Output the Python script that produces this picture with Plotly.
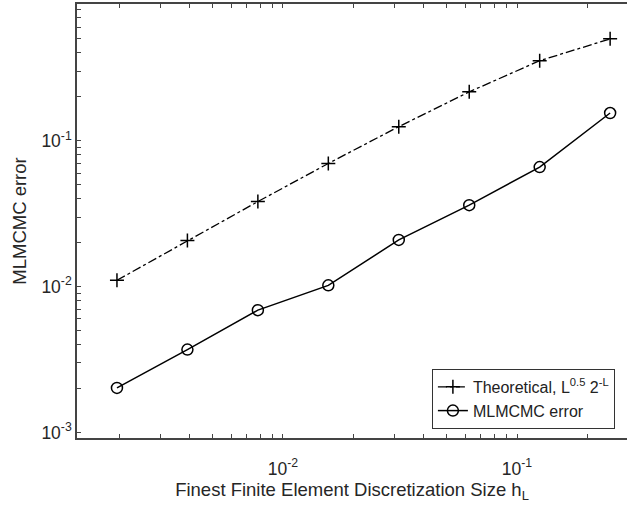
import plotly.graph_objects as go

# Discretization sizes h_L
h_values = [0.001953125, 0.00390625, 0.0078125, 0.015625, 0.03125, 0.0625, 0.125, 0.25]
# Theoretical rate L^0.5 2^-L
theoretical = [0.01105, 0.0207, 0.0383, 0.0699, 0.125, 0.2165, 0.354, 0.5]
# MLMCMC error
mlmcmc_error = [0.00202, 0.0037, 0.0069, 0.0102, 0.0209, 0.0362, 0.066, 0.155]

series_names = ["Theoretical, L<sup>0.5</sup> 2<sup>-L</sup>", "MLMCMC error"]
x_title = "Finest Finite Element Discretization Size h<sub>L</sub>"
y_title = "MLMCMC error"

major_vals = [0.001, 0.01, 0.1]
major_text = ["10<sup>-3</sup>", "10<sup>-2</sup>", "10<sup>-1</sup>"]

FONT = "Liberation Sans, Arial, Helvetica, sans-serif"
AXC = "#444444"
TXT = "#262626"

# tick positions: decades labelled, 2..9 multiples unlabelled
tick_vals, tick_text = [], []
for e in range(-4, 1):
    for m in range(1, 10):
        v = m * 10.0 ** e
        tick_vals.append(v)
        if m == 1 and v in major_vals:
            tick_text.append(major_text[major_vals.index(v)])
        else:
            tick_text.append("")

fig = go.Figure()
fig.add_trace(go.Scatter(
    x=h_values, y=theoretical, name=series_names[0], mode="lines+markers",
    line=dict(color="black", width=1.3, dash="dashdot"),
    marker=dict(symbol="cross-thin-open", size=10, color="black",
                line=dict(width=1.5, color="black")),
))
fig.add_trace(go.Scatter(
    x=h_values, y=mlmcmc_error, name=series_names[1], mode="lines+markers",
    line=dict(color="black", width=1.5),
    marker=dict(symbol="circle-open", size=11, color="black",
                line=dict(width=1.5, color="black")),
))

axis_common = dict(
    type="log", showgrid=False, zeroline=False, showline=True,
    linecolor=AXC, linewidth=1.5, ticks="inside", ticklen=4, tickcolor=AXC,
    tickwidth=1, tickmode="array", tickvals=tick_vals, ticktext=tick_text,
    tickfont=dict(family=FONT, size=17.5, color=TXT),
)

fig.update_layout(
    width=627, height=507,
    margin=dict(l=77, r=0, t=4, b=69),
    paper_bgcolor="white", plot_bgcolor="white",
    font=dict(family=FONT, size=17, color=TXT),
    xaxis=dict(axis_common, range=[-2.880, -0.530], mirror="ticks",
               ticklabelstandoff=14,
               title=dict(text=x_title, font=dict(family=FONT, size=18.5, color=TXT), standoff=2)),
    yaxis=dict(axis_common, range=[-3.038, -0.062], mirror=False,
               title=dict(text=y_title, font=dict(family=FONT, size=18.5, color=TXT), standoff=10)),
    legend=dict(x=0.978, y=0.021, xanchor="right", yanchor="bottom",
                bgcolor="white", bordercolor="#333333", borderwidth=1,
                font=dict(family=FONT, size=16, color="#222222"),
                tracegroupgap=0, itemwidth=30),
    showlegend=True,
)

fig.write_html("out.html")
